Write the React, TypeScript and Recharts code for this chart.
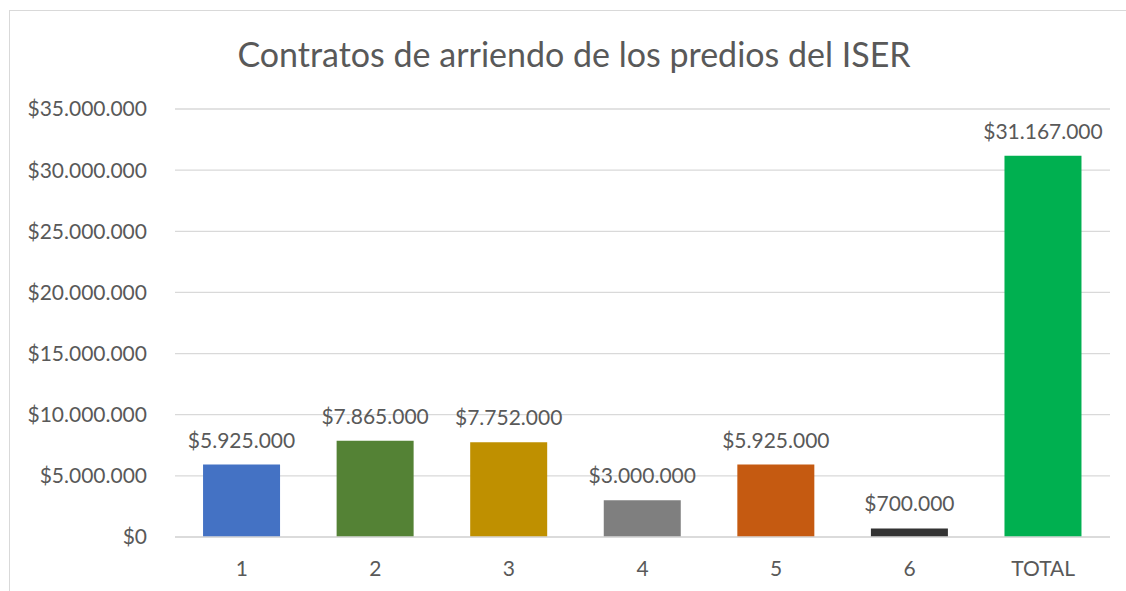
import React from 'react';
import { BarChart, Bar, XAxis, YAxis, CartesianGrid, Cell, LabelList } from 'recharts';

const categories = ['1', '2', '3', '4', '5', '6', 'TOTAL'];
const values = [5925000, 7865000, 7752000, 3000000, 5925000, 700000, 31167000];
const colors = ['#4472C4', '#548235', '#BF9000', '#7F7F7F', '#C55A11', '#333333', '#00B050'];
const yTicks = [0, 5000000, 10000000, 15000000, 20000000, 25000000, 30000000, 35000000];
const title = 'Contratos de arriendo de los predios del ISER';

const data = categories.map((c, i) => ({ name: c, value: values[i] }));

const fmt = (v: number) => '$' + String(v).replace(/\B(?=(\d{3})+(?!\d))/g, '.');

const FONT = 'Lato, "Open Sans", sans-serif';
const TEXT = '#595959';

export default function App() {
  return (
    <div>
      <style>{`body{overflow:hidden}`}</style>
      <div
        style={{
          position: 'absolute',
          left: 9,
          top: 10,
          width: 1140,
          height: 600,
          border: '1px solid #d9d9d9',
          boxSizing: 'border-box',
          background: '#fff',
          fontFamily: FONT,
        }}
      >
        <div
          style={{
            position: 'absolute',
            left: 0,
            width: 1128,
            top: 23,
            textAlign: 'center',
            fontSize: 34,
            color: TEXT,
            lineHeight: '40px',
            whiteSpace: 'nowrap',
          }}
        >
          {title}
        </div>
        <BarChart
          width={1138}
          height={598}
          data={data}
          margin={{ top: 98, right: 38, bottom: 0, left: 0 }}
          barCategoryGap="21%"
        >
          <CartesianGrid vertical={false} stroke="#d9d9d9" strokeWidth={1.3} />
          <XAxis
            dataKey="name"
            height={72}
            tickLine={false}
            axisLine={{ stroke: '#d9d9d9', strokeWidth: 1.3 }}
            tickSize={0}
            tickMargin={24}
            tick={{ fill: TEXT, fontSize: 21, fontFamily: FONT }}
          />
          <YAxis
            width={165}
            domain={[0, 35000000]}
            ticks={yTicks}
            interval={0}
            tickFormatter={fmt}
            axisLine={false}
            tickLine={false}
            tickSize={0}
            tickMargin={28}
            tick={{ fill: TEXT, fontSize: 21, fontFamily: FONT }}
          />
          <Bar dataKey="value" isAnimationActive={false}>
            {data.map((d, i) => (
              <Cell key={d.name} fill={colors[i]} />
            ))}
            <LabelList
              dataKey="value"
              position="top"
              offset={17}
              formatter={(v: any) => fmt(Number(v))}
              style={{ fill: TEXT, fontSize: 21, fontFamily: FONT }}
            />
          </Bar>
        </BarChart>
      </div>
    </div>
  );
}
